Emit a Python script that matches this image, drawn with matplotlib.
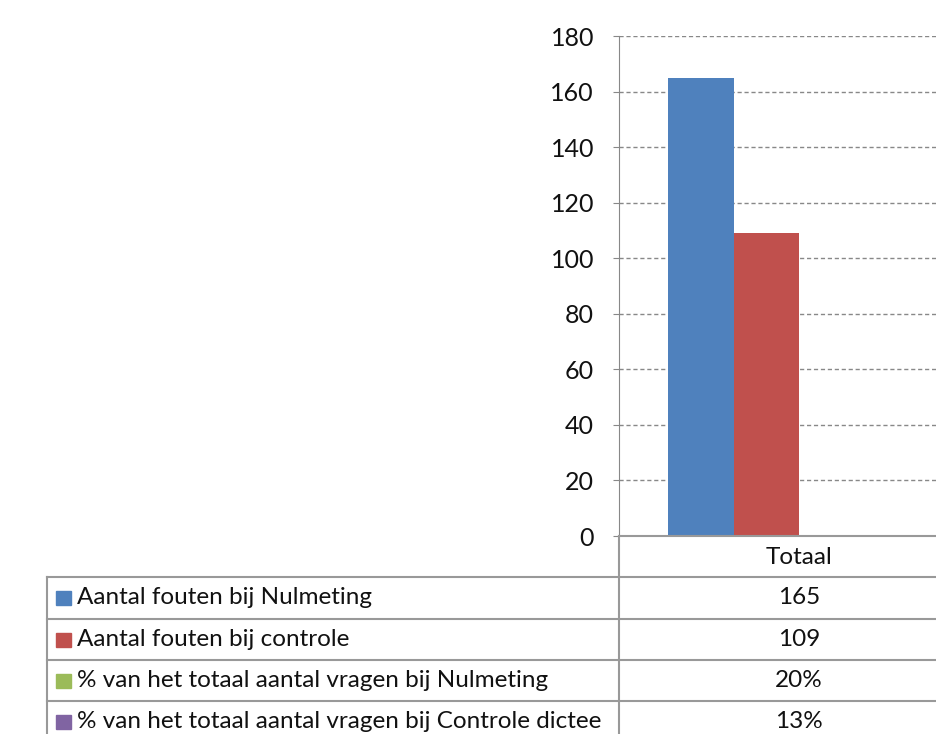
import matplotlib.pyplot as plt
from matplotlib.lines import Line2D
from matplotlib.patches import Rectangle

plt.rcParams['font.family'] = ['Lato', 'DejaVu Sans']

# data
category = 'Totaal'
series_names = [
    'Aantal fouten bij Nulmeting',
    'Aantal fouten bij controle',
    '% van het totaal aantal vragen bij Nulmeting',
    '% van het totaal aantal vragen bij Controle dictee',
]
values = [165, 109, 0.20, 0.13]
value_labels = ['165', '109', '20%', '13%']
colors = ['#4F81BD', '#C0504D', '#9BBB59', '#8064A2']

W, H = 937, 734
fig = plt.figure(figsize=(W / 100, H / 100), dpi=100)

# plot area in pixels (extends beyond the right edge, as in the reference)
x0, x1 = 619, 979
y_top, y_bot = 36, 536
ax = fig.add_axes([x0 / W, 1 - y_bot / H, (x1 - x0) / W, (y_bot - y_top) / H])

n = len(values)
w = 1 / (n + 1.5)
for i, (v, c) in enumerate(zip(values, colors)):
    left = -0.5 + 0.75 * w + i * w
    ax.bar(left, v, width=w, align='edge', color=c, zorder=3)

ax.set_xlim(-0.5, 0.5)
ax.set_ylim(0, 180)
ax.set_yticks(range(0, 181, 20))
ax.set_xticks([])
ax.yaxis.grid(True, linestyle=(0, (3, 2)), color='#888888', linewidth=1)
ax.set_axisbelow(True)
for s in ['top', 'right', 'bottom']:
    ax.spines[s].set_visible(False)
ax.spines['left'].set_color('#888888')
ax.tick_params(axis='y', length=4, color='#888888', labelsize=18, pad=14,
               labelcolor='#111111')

# data table below the plot
def fx(px):
    return px / W

def fy(py):
    return 1 - py / H

fs = 17.5
line_kw = dict(color='#999999', linewidth=1.5, transform=fig.transFigure)
row_edges = [536, 577, 619, 660, 701, 742]
table_left = 47

# header row (only the value column)
fig.add_artist(Line2D([fx(x0), fx(W + 5)], [fy(536), fy(536)], **line_kw))
fig.text(fx((x0 + x1) / 2), fy((row_edges[0] + row_edges[1]) / 2 + 1), category,
         ha='center', va='center', fontsize=fs, color='#111111')
for y in row_edges[1:5]:
    fig.add_artist(Line2D([fx(table_left), fx(W + 5)], [fy(y), fy(y)], **line_kw))
fig.add_artist(Line2D([fx(x0), fx(x0)], [fy(536), fy(H + 5)], **line_kw))
fig.add_artist(Line2D([fx(table_left), fx(table_left)], [fy(577), fy(H + 5)], **line_kw))

for i, (name, lab, c) in enumerate(zip(series_names, value_labels, colors)):
    yc = (row_edges[i + 1] + row_edges[i + 2]) / 2
    fig.add_artist(Rectangle((fx(56), fy(yc + 7)), 15 / W, 14 / H,
                             transform=fig.transFigure, color=c))
    fig.text(fx(77), fy(yc), name, ha='left', va='center', fontsize=fs,
             color='#111111')
    fig.text(fx((x0 + x1) / 2), fy(yc), lab, ha='center', va='center',
             fontsize=fs, color='#111111')

fig.savefig('out.png', dpi=100)
